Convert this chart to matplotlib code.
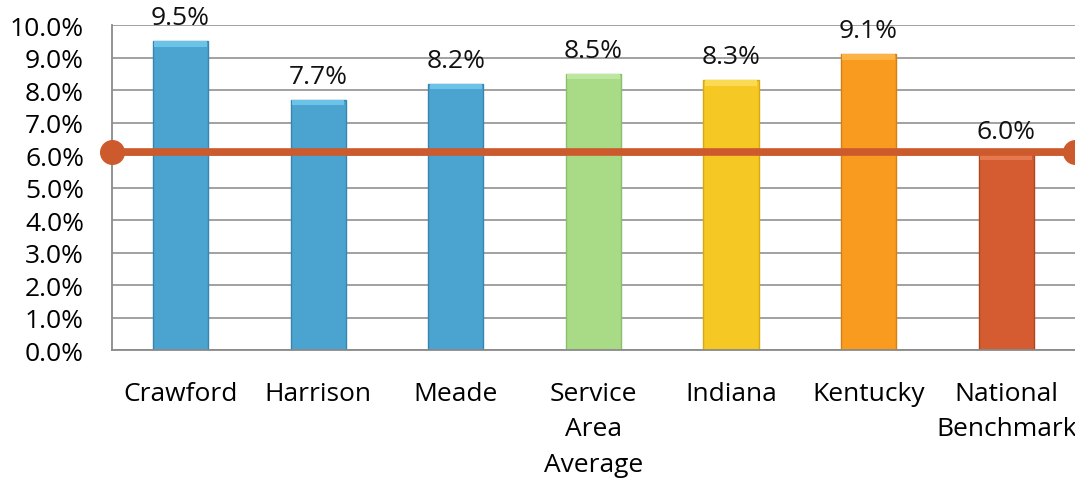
import matplotlib

matplotlib.use("Agg")
from matplotlib import pyplot as plt
from matplotlib.patches import Rectangle

categories = ["Crawford", "Harrison", "Meade", "Service\nArea\nAverage", "Indiana", "Kentucky", "National\nBenchmark"]
values = [9.5, 7.7, 8.2, 8.5, 8.3, 9.1, 6.0]
benchmark = 6.1
colors = ["#4BA3CF", "#4BA3CF", "#4BA3CF", "#A9DA86", "#F6C824", "#F99B1E", "#D45C30"]
top_colors = ["#6CC3E8", "#6CC3E8", "#6CC3E8", "#BDE6A0", "#F9DA50", "#FCB245", "#E67850"]
edge_colors = ["#3A85AE", "#3A85AE", "#3A85AE", "#8DBF6B", "#D6A912", "#D67E10", "#B04520"]
yticks = [i * 1.0 for i in range(11)]

plt.rcParams["font.family"] = ["Open Sans", "DejaVu Sans"]

fig = plt.figure(figsize=(10.75, 4.85), dpi=100)
ax = fig.add_axes([0.104, 0.276, 0.896, 0.67])

x = list(range(len(categories)))
width = 0.4
ax.bar(x, values, width=width, color=colors, edgecolor=edge_colors, linewidth=1.0, zorder=2)
# lighter bevel strip on top of each bar
for xi, v, tc in zip(x, values, top_colors):
    ax.add_patch(Rectangle((xi - width / 2 + 0.01, v - 0.16), width - 0.02, 0.16, color=tc, zorder=3, lw=0))

for xi, v in zip(x, values):
    ax.annotate(f"{v:.1f}%", (xi, v), xytext=(0, 8), textcoords="offset points",
                ha="center", va="bottom", fontsize=19, color="#111111")

ax.plot([-0.5, 6.5], [benchmark, benchmark], color="#CD5A2C", linewidth=5.5,
        marker="o", markersize=17, clip_on=False, zorder=4)

ax.set_xlim(-0.5, 6.5)
ax.set_ylim(0, 10)
ax.set_yticks(yticks)
ax.set_yticklabels([f"{t:.1f}%" for t in yticks], fontsize=19)
ax.set_xticks(x)
ax.set_xticklabels(categories, fontsize=19, linespacing=1.55, va="top")
ax.tick_params(axis="x", length=0, pad=22)
ax.tick_params(axis="y", length=0, pad=20)

ax.grid(axis="y", color="#9A9A9A", linewidth=1.3, zorder=0)
ax.set_axisbelow(True)
for side in ["top", "right"]:
    ax.spines[side].set_visible(False)
ax.spines["left"].set_color("#8A8A8A")
ax.spines["bottom"].set_color("#8A8A8A")
ax.spines["left"].set_linewidth(1.3)
ax.spines["bottom"].set_linewidth(1.3)

fig.savefig("out.png", dpi=100)
plt.close(fig)
